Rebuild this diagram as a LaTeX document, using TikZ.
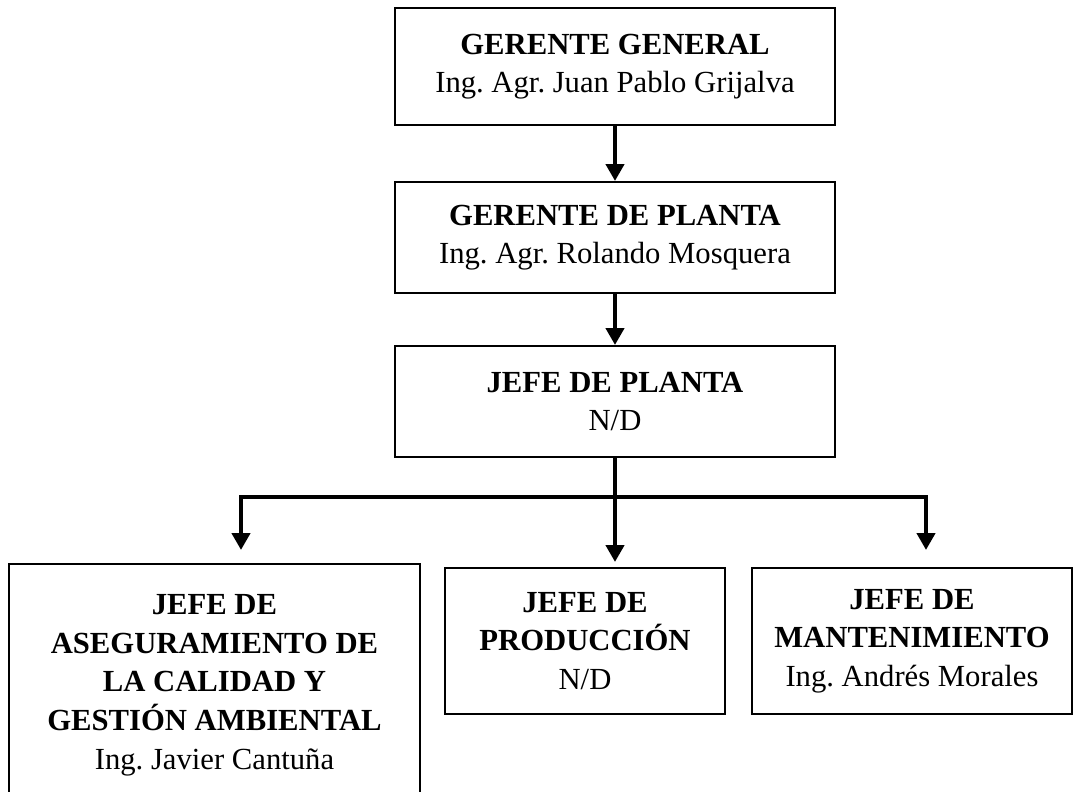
\documentclass[tikz,border=0pt]{standalone}
\usepackage{fontspec}
\setmainfont{Liberation Serif}
\usetikzlibrary{positioning, arrows.meta, calc}
\frenchspacing

\tikzset{
  cargo/.style={draw, line width=1.5pt, align=center, inner sep=0pt,
    font=\fontsize{23}{29}\selectfont},
  enlace/.style={line width=3.4pt, line join=miter,
    -{Triangle[length=12.75pt, width=13.5pt]}}
}

\begin{document}
\begin{tikzpicture}[x=0.75pt, y=-0.75pt]
        \useasboundingbox (0,0) rectangle (1075,792);

        % Gerente general
        \node[cargo, minimum width=330pt, minimum height=87.75pt] (gg) at (615,66.5)
          {\textbf{GERENTE GENERAL}\\Ing. Agr. Juan Pablo Grijalva};

        % Gerente de planta
        \node[cargo, minimum width=330pt, minimum height=83.25pt] (gp) at (615,237.5)
          {\textbf{GERENTE DE PLANTA}\\Ing. Agr. Rolando Mosquera};

        % Jefe de planta
        \node[cargo, minimum width=330pt, minimum height=83.25pt] (jp) at (615,401.5)
          {\textbf{JEFE DE PLANTA}\\N/D};

        % Jefes de area
        \node[cargo, minimum width=308.25pt, minimum height=181.5pt] (jc) at (214.5,685)
          {\textbf{JEFE DE}\\\textbf{ASEGURAMIENTO DE}\\\textbf{LA CALIDAD Y}\\\textbf{GESTIÓN AMBIENTAL}\\Ing. Javier Cantuña};
        \node[cargo, minimum width=210pt, minimum height=109.5pt] (jpr) at (585,641)
          {\textbf{JEFE DE}\\\textbf{PRODUCCIÓN}\\N/D};
        \node[cargo, minimum width=240pt, minimum height=109.5pt] (jm) at (912,641)
          {\textbf{JEFE DE}\\\textbf{MANTENIMIENTO}\\Ing. Andrés Morales};

        % Conectores
        \coordinate (bus) at (615,497);
        \coordinate (tipL) at (241,550);
        \coordinate (tipR) at (926,550);
        \draw[enlace] (gg.south) -- (gp.north);
        \draw[enlace] (gp.south) -- (jp.north);
        \draw[enlace, shorten >=3.75pt] (jp.south) -- (jp.south |- jpr.north);
        \draw[enlace] (bus) -| (tipL);
        \draw[enlace] (bus) -| (tipR);
\end{tikzpicture}
\end{document}
